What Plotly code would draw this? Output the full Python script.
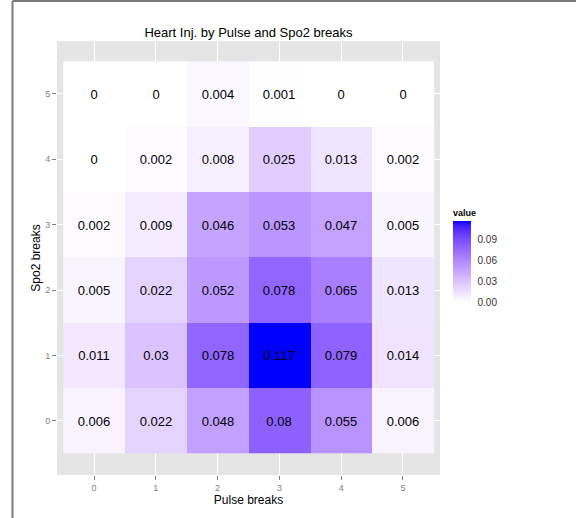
import numpy as np
import plotly.graph_objects as go

# ---- data ----
pulse_breaks = [0, 1, 2, 3, 4, 5]
spo2_breaks = [0, 1, 2, 3, 4, 5]
# rows = spo2 breaks 0..5, columns = pulse breaks 0..5
values = [
    [0.006, 0.022, 0.048, 0.08, 0.055, 0.006],   # spo2 0
    [0.011, 0.03, 0.078, 0.117, 0.079, 0.014],   # spo2 1
    [0.005, 0.022, 0.052, 0.078, 0.065, 0.013],  # spo2 2
    [0.002, 0.009, 0.046, 0.053, 0.047, 0.005],  # spo2 3
    [0, 0.002, 0.008, 0.025, 0.013, 0.002],      # spo2 4
    [0, 0, 0.004, 0.001, 0, 0],                  # spo2 5
]
cbar_ticks = [0.0, 0.03, 0.06, 0.09]
cbar_ticktext = ["0.00", "0.03", "0.06", "0.09"]

# ---- white -> blue gradient interpolated in Lab space (as ggplot does) ----
def srgb_to_lab(rgb):
    c = np.array(rgb, dtype=float) / 255.0
    c = np.where(c <= 0.04045, c / 12.92, ((c + 0.055) / 1.055) ** 2.4)
    M = np.array([[0.4124, 0.3576, 0.1805],
                  [0.2126, 0.7152, 0.0722],
                  [0.0193, 0.1192, 0.9505]])
    xyz = M @ c
    wp = np.array([0.95047, 1.0, 1.08883])
    t = xyz / wp
    f = np.where(t > (6/29) ** 3, np.cbrt(t), t / (3 * (6/29) ** 2) + 4/29)
    return np.array([116 * f[1] - 16, 500 * (f[0] - f[1]), 200 * (f[1] - f[2])])

def lab_to_srgb(lab):
    L, a, b = lab
    fy = (L + 16) / 116
    fx = fy + a / 500
    fz = fy - b / 200
    f = np.array([fx, fy, fz])
    t = np.where(f > 6/29, f ** 3, 3 * (6/29) ** 2 * (f - 4/29))
    wp = np.array([0.95047, 1.0, 1.08883])
    xyz = t * wp
    Minv = np.array([[3.2406, -1.5372, -0.4986],
                     [-0.9689, 1.8758, 0.0415],
                     [0.0557, -0.2040, 1.0570]])
    c = Minv @ xyz
    c = np.clip(c, 0, 1)
    c = np.where(c <= 0.0031308, 12.92 * c, 1.055 * c ** (1/2.4) - 0.055)
    c = np.clip(np.round(c * 255), 0, 255).astype(int)
    return "rgb(%d,%d,%d)" % tuple(c)

lab_lo = srgb_to_lab([255, 255, 255])
lab_hi = srgb_to_lab([0, 0, 255])
stops = np.linspace(0, 1, 21)
colorscale = [[float(s), lab_to_srgb(lab_lo + s * (lab_hi - lab_lo))] for s in stops]

FONT = "Liberation Sans, Arial, Helvetica, sans-serif"

L, R, T, B = 57, 440, 41, 475
pw, ph = R - L, B - T

fig = go.Figure()
fig.add_trace(go.Heatmap(
    x=pulse_breaks, y=spo2_breaks, z=values,
    zmin=0, zmax=0.117,
    colorscale=colorscale,
    texttemplate="%{z}",
    textfont=dict(family=FONT, size=13, color="black"),
    xgap=0, ygap=0,
    hoverinfo="x+y+z",
    colorbar=dict(
        title=dict(text="<b>value</b>", side="top", font=dict(family=FONT, size=9, color="black")),
        x=(453 - L) / pw, xanchor="left", xpad=0,
        y=(B - 302) / ph, yanchor="bottom", ypad=0,
        len=96 / ph, lenmode="fraction",
        thickness=18, thicknessmode="pixels",
        outlinewidth=0,
        tickvals=cbar_ticks, ticktext=cbar_ticktext,
        ticks="outside", ticklen=5, tickcolor="white", tickwidth=1,
        tickfont=dict(family=FONT, size=10, color="#333333"),
    ),
))

fig.update_layout(
    width=576, height=518,
    margin=dict(l=L, r=576 - R, t=T, b=518 - B, autoexpand=False),
    paper_bgcolor="white",
    plot_bgcolor="#E5E5E5",
    title=dict(text="Heart Inj. by Pulse and Spo2 breaks",
               x=(L + R) / 2 / 576, xanchor="center",
               y=1 - 32 / 518, yanchor="middle",
               font=dict(family=FONT, size=13, color="black")),
    font=dict(family=FONT),
    xaxis=dict(
        range=[-0.6, 5.6], tickvals=pulse_breaks, ticktext=[str(v) for v in pulse_breaks],
        showgrid=True, gridcolor="white", gridwidth=1, zeroline=False,
        ticks="outside", ticklen=4, tickcolor="#7F7F7F", tickwidth=1,
        tickfont=dict(family=FONT, size=9, color="#7F7F7F"),
        title=dict(text="Pulse breaks", font=dict(family=FONT, size=12, color="black"), standoff=1),
        showline=False,
    ),
    yaxis=dict(
        range=[-0.83, 5.81], tickvals=spo2_breaks, ticktext=[str(v) for v in spo2_breaks],
        showgrid=True, gridcolor="white", gridwidth=1, zeroline=False,
        ticks="outside", ticklen=4, tickcolor="#7F7F7F", tickwidth=1,
        tickfont=dict(family=FONT, size=9, color="#7F7F7F"),
        title=dict(text="Spo2 breaks", font=dict(family=FONT, size=12, color="black"), standoff=1),
        showline=False,
    ),
)

# frame lines at the left and top of the image
xl = (12.5 - L) / pw
yt = (B - 1) / ph
yb = (B - 518) / ph
fig.add_shape(type="line", xref="paper", yref="paper", x0=xl, x1=xl, y0=yb, y1=yt,
              line=dict(color="#7A7A7A", width=2))
fig.add_shape(type="line", xref="paper", yref="paper", x0=xl, x1=(576 - L) / pw, y0=yt, y1=yt,
              line=dict(color="#7A7A7A", width=2))

fig.write_html("out.html", config={"displayModeBar": False},
               post_script="document.body.style.margin='0';")
